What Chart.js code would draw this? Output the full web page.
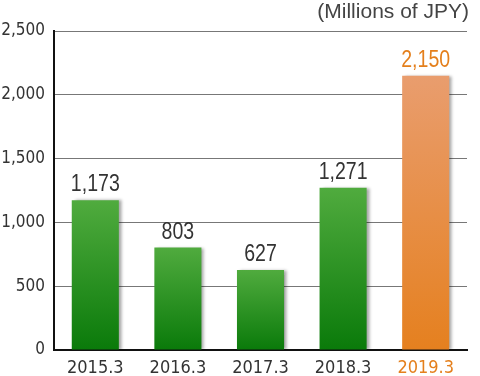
<!DOCTYPE html>
<html><head><meta charset="utf-8">
<script src="https://cdn.jsdelivr.net/npm/chart.js@4"></script>
<style>html,body{margin:0;padding:0;background:#fff}#wrap{width:480px;height:376px;position:relative}</style>
</head><body><div id="wrap"><canvas id="c" width="480" height="376"></canvas></div>
<script>
const categories = ['2015.3','2016.3','2017.3','2018.3','2019.3'];
const values = [1173, 803, 627, 1271, 2150];
const valueLabels = ['1,173','803','627','1,271','2,150'];
const yTicks = [0, 500, 1000, 1500, 2000, 2500];
const unitLabel = '(Millions of JPY)';

const NARROW = "'DejaVu Sans Condensed','Liberation Sans Narrow',sans-serif";
const ORANGE = '#e47f1c';

const shadowPlugin = {
  id: 'shadow',
  beforeDatasetsDraw(chart) {
    const c = chart.ctx; c.save();
    c.shadowColor = 'rgba(0,0,0,0.35)'; c.shadowOffsetX = 3; c.shadowOffsetY = 0; c.shadowBlur = 3;
  },
  afterDatasetsDraw(chart) {
    const c = chart.ctx; c.restore();
    const meta = chart.getDatasetMeta(0);
    meta.data.forEach((el, i) => {
      const last = i === values.length - 1;
      c.save();
      c.translate(el.x, el.y - 9);
      c.scale(0.85, 1);
      c.textAlign = 'center'; c.textBaseline = 'alphabetic';
      c.font = '23px "Liberation Sans", Arial, sans-serif';
      c.fillStyle = last ? ORANGE : '#333';
      c.fillText(valueLabels[i], 0, 0);
      c.restore();
    });
    c.save();
    c.font = '21px "Liberation Sans", Arial, sans-serif';
    c.fillStyle = '#444'; c.textAlign = 'right'; c.textBaseline = 'alphabetic';
    c.fillText(unitLabel, 469, 18);
    c.restore();
  }
};

function grad(ctx) {
  const chart = ctx.chart;
  const i = ctx.dataIndex;
  const last = i === values.length - 1;
  if (!chart.chartArea || !chart.scales.y) return last ? '#e58a40' : '#2a9a22';
  const y = chart.scales.y;
  const top = y.getPixelForValue(values[i]);
  const bot = y.getPixelForValue(0);
  const g = chart.ctx.createLinearGradient(0, top, 0, bot);
  if (last) { g.addColorStop(0, '#e99d6e'); g.addColorStop(1, '#e5801f'); }
  else { g.addColorStop(0, '#50ab3e'); g.addColorStop(1, '#0a7a0a'); }
  return g;
}

new Chart(document.getElementById('c'), {
  type: 'bar',
  data: { labels: categories, datasets: [{ data: values, backgroundColor: grad, barPercentage: 0.57, categoryPercentage: 1 }] },
  options: {
    responsive: false, animation: false,
    layout: { padding: { top: 31, right: 13, left: 0, bottom: 0 } },
    plugins: { legend: { display: false }, tooltip: { enabled: false } },
    scales: {
      x: {
        grid: { display: false },
        border: { color: '#111', width: 2 },
        ticks: {
          padding: 0,
          color: (c) => c.index === 4 ? ORANGE : '#333',
          font: { family: NARROW, size: 18 }
        },
        afterFit(s) { s.height = 26; }
      },
      y: {
        min: 0, max: 2500,
        afterBuildTicks(s) { s.ticks = yTicks.map(v => ({ value: v })); },
        grid: { color: '#777', lineWidth: 1, drawTicks: false },
        border: { color: '#111', width: 2 },
        ticks: {
          padding: 9, color: '#333',
          font: { family: NARROW, size: 17 },
          callback: (v) => v.toLocaleString('en-US')
        },
        afterFit(s) { s.width = 54; }
      }
    }
  },
  plugins: [shadowPlugin]
});
</script></body></html>
